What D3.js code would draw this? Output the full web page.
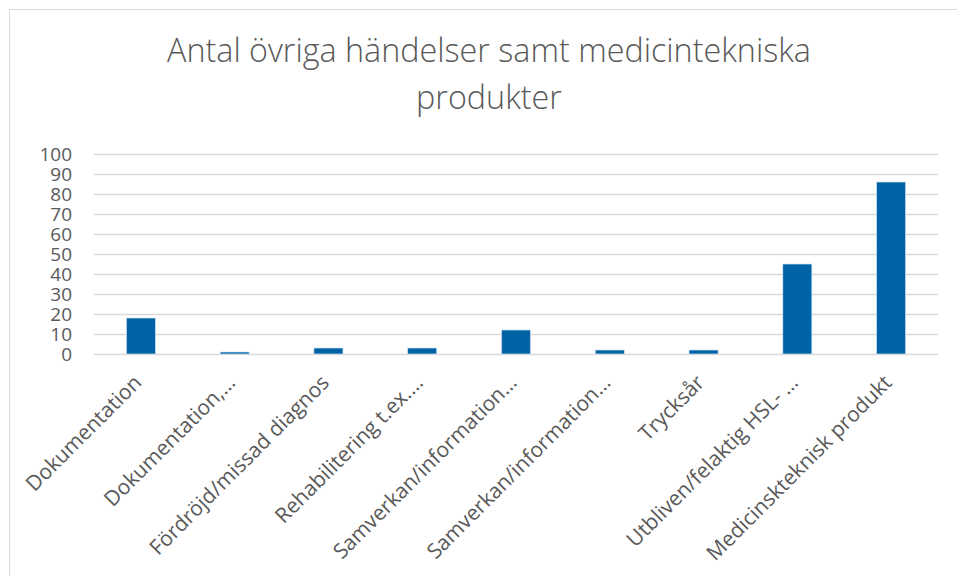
<!DOCTYPE html>
<html>
<head>
<meta charset="utf-8">
<script src="https://cdn.jsdelivr.net/npm/d3@7"></script>
<style>
    body { margin: 0; background: #fff; }
    text { font-family: "Open Sans", sans-serif; fill: #595959; }
</style>
</head>
<body>
<div id="chart"></div>
<script>
var categories = [
    "Dokumentation",
    "Dokumentation,…",
    "Fördröjd/missad diagnos",
    "Rehabilitering t.ex.…",
    "Samverkan/information…",
    "Samverkan/information…",
    "Trycksår",
    "Utbliven/felaktig HSL- …",
    "Medicinskteknisk produkt"
];
var values = [18, 1, 3, 3, 12, 2, 2, 45, 86];
var yTicks = [0, 10, 20, 30, 40, 50, 60, 70, 80, 90, 100];
var titleLines = ["Antal övriga händelser samt medicintekniska", "produkter"];

var width = 957, height = 576;
var margin = {top: 154, right: 19, bottom: 222, left: 94};

var svg = d3.select("#chart").append("svg")
    .attr("width", width)
    .attr("height", height);

// chart frame
svg.append("rect")
    .attr("x", 9.5).attr("y", 9.5)
    .attr("width", width + 10).attr("height", height + 10)
    .attr("fill", "none")
    .attr("stroke", "#d9d9d9")
    .attr("stroke-width", 1);

svg.selectAll(".title").data(titleLines).enter().append("text")
    .attr("class", "title")
    .attr("x", 489)
    .attr("y", function(d, i) { return 62 + i * 47; })
    .attr("text-anchor", "middle")
    .style("font-size", "32.3px")
    .style("font-weight", 300)
    .text(function(d) { return d; });

var x = d3.scaleBand()
    .domain(d3.range(categories.length))
    .range([margin.left, width - margin.right])
    .paddingInner(0.69)
    .paddingOuter(0.345);

var y = d3.scaleLinear()
    .domain([0, 100])
    .range([height - margin.bottom, margin.top]);

// gridlines
svg.append("g")
    .attr("transform", "translate(" + margin.left + ",0)")
    .call(d3.axisLeft(y).tickValues(yTicks).tickSize(-(width - margin.left - margin.right)).tickFormat(""))
    .call(function(g) { g.select(".domain").remove(); })
    .selectAll("line")
    .attr("stroke", "#d9d9d9")
    .attr("stroke-width", 1.5);

// y labels
svg.selectAll(".ylab").data(yTicks).enter().append("text")
    .attr("class", "ylab")
    .attr("x", 72)
    .attr("y", function(d) { return y(d); })
    .attr("dy", "0.36em")
    .attr("text-anchor", "end")
    .style("font-size", "19px")
    .text(function(d) { return d; });

// bars
svg.selectAll(".bar").data(values).enter().append("rect")
    .attr("class", "bar")
    .attr("x", function(d, i) { return x(i); })
    .attr("width", x.bandwidth())
    .attr("y", function(d) { return y(d); })
    .attr("height", function(d) { return y(0) - y(d); })
    .attr("fill", "#0063a6")
    .attr("stroke", "#cfe3f3")
    .attr("stroke-width", 0.7);

// category labels
svg.selectAll(".xlab").data(categories).enter().append("text")
    .attr("class", "xlab")
    .attr("transform", function(d, i) {
        return "translate(" + (x(i) + x.bandwidth() / 2 + 2) + "," + 384 + ") rotate(-45)";
    })
    .attr("text-anchor", "end")
    .style("font-size", "21px")
    .text(function(d) { return d; });
</script>
</body>
</html>
